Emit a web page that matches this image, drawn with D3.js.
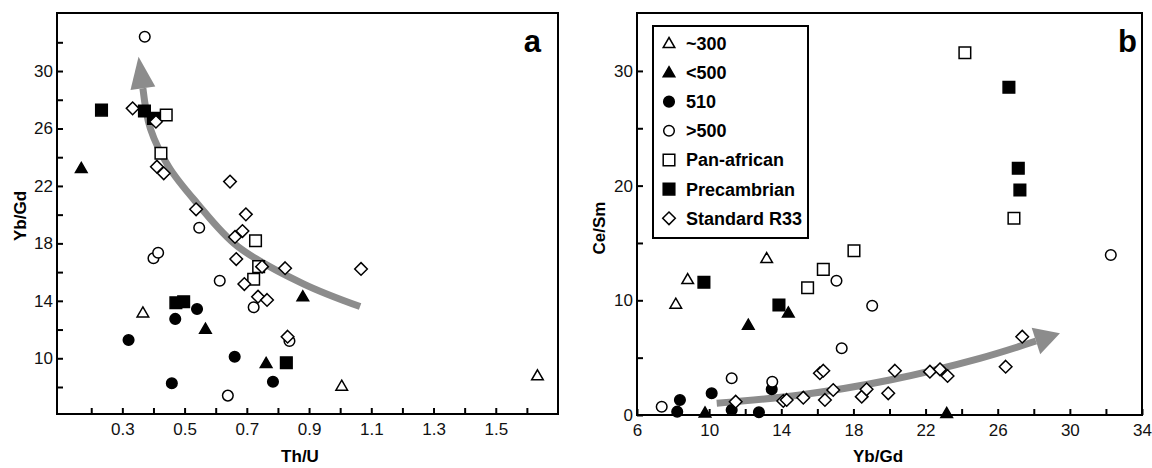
<!DOCTYPE html>
<html><head><meta charset="utf-8">
<script src="https://cdn.jsdelivr.net/npm/d3@7"></script>
<style>body{margin:0;background:#fff}svg{display:block}text{font-family:"Liberation Sans",Arial,Helvetica,sans-serif}</style>
</head><body><svg id="c" width="1152" height="468"></svg>
<script>
// ---- categories / legend ----
const groups = ["~300", "<500", "510", ">500", "Pan-african", "Precambrian", "Standard R33"];
const shapes = ["triangle", "triangle", "circle", "circle", "square", "square", "diamond"];
const filled = [false, true, true, false, false, true, false];

// ---- panel a: [Th/U, Yb/Gd] ----
const a300   = [[0.366,13.17],[1.005,8.07],[1.634,8.79]];
const aLt500 = [[0.168,23.23],[0.567,12.04],[0.762,9.65],[0.88,14.29]];
const a510   = [[0.32,11.27],[0.47,12.74],[0.54,13.43],[0.459,8.26],[0.661,10.11],[0.784,8.37]];
const aGt500 = [[0.372,32.39],[0.40,16.96],[0.415,17.35],[0.547,19.09],[0.613,15.40],[0.722,13.55],[0.639,7.40],[0.837,11.20]];
const aPan   = [[0.441,26.94],[0.424,24.27],[0.728,18.18],[0.738,16.38],[0.722,15.50]];
const aPre   = [[0.233,27.28],[0.371,27.22],[0.40,26.7],[0.472,13.87],[0.497,13.94],[0.827,9.69]];
const aStd   = [[0.333,27.40],[0.408,26.47],[0.411,23.34],[0.433,22.88],[0.646,22.3],[0.537,20.37],[0.697,20.02],[0.686,18.86],[0.662,18.45],[0.666,16.91],[0.749,16.38],[0.823,16.27],[0.692,15.17],[0.736,14.29],[0.765,14.06],[0.831,11.50],[1.067,16.22]];
const aArrow = [[1.064,13.6],[0.88,15.2],[0.67,17.8],[0.54,20.8],[0.45,23.3],[0.39,26.0],[0.366,28.8]];
const aArrowTip = [0.352,31.0];

// ---- panel b: [Yb/Gd, Ce/Sm] ----
const b300   = [[8.15,9.68],[8.81,11.83],[13.19,13.66]];
const bLt500 = [[12.17,7.85],[14.39,8.92],[9.77,0.2],[23.17,0.15]];
const b510   = [[8.38,1.31],[8.23,0.29],[10.14,1.89],[11.25,0.44],[12.76,0.24],[13.47,2.24]];
const bGt500 = [[7.37,0.72],[11.25,3.20],[13.50,2.90],[17.06,11.71],[19.04,9.53],[17.35,5.82],[32.27,13.95]];
const bPan   = [[15.46,11.10],[16.33,12.70],[18.03,14.32],[24.18,31.59],[26.90,17.15]];
const bPre   = [[9.71,11.57],[13.87,9.59],[26.62,28.57],[27.14,21.51],[27.23,19.62]];
const bStd   = [[11.47,1.16],[14.11,1.22],[14.30,1.31],[15.22,1.51],[16.42,1.31],[16.14,3.64],[16.33,3.86],[16.88,2.18],[18.46,1.60],[18.73,2.24],[19.93,1.89],[20.30,3.86],[22.24,3.78],[22.80,3.98],[23.22,3.40],[26.44,4.21],[27.36,6.83]];
const bArrow = [[10.42,1.02],[15.04,1.74],[20.02,3.05],[25.01,4.94],[28.12,6.45]];
const bArrowTip = [29.45,7.12];

// ---- ticks ----
const aXTicks = [0.2,0.3,0.4,0.5,0.6,0.7,0.8,0.9,1.0,1.1,1.2,1.3,1.4,1.5,1.6];
const aXLabels = ["0.3","0.5","0.7","0.9","1.1","1.3","1.5"];
const aYTicks = [8,10,12,14,16,18,20,22,24,26,28,30,32];
const aYLabels = ["10","14","18","22","26","30"];
const bXTicks = [6,8,10,12,14,16,18,20,22,24,26,28,30,32,34];
const bXLabels = ["6","10","14","18","22","26","30","34"];
const bYTicks = [0,5,10,15,20,25,30];
const bYLabels = ["0","10","20","30"];

const svg = d3.select("#c");

function symPath(shape) {
  if (shape === "triangle") return "M0,-5.8L5.8,4.2L-5.8,4.2Z";
  if (shape === "circle") return d3.symbol(d3.symbolCircle, Math.PI * 5.3 * 5.3)();
  if (shape === "square") return "M-5.8,-5.8H5.8V5.8H-5.8Z";
  return "M0,-6.3L6.3,0L0,6.3L-6.3,0Z";
}

function panel(o) {
  const x = d3.scaleLinear().domain(o.xd).range([o.l, o.r]);
  const y = d3.scaleLinear().domain(o.yd).range([o.b, o.t]);
  const g = svg.append("g");

  // arrow
  const pts = o.arrow.map(d => [x(d[0]), y(d[1])]);
  g.append("path").attr("d", d3.line().curve(d3.curveCatmullRom)(pts))
    .attr("fill", "none").attr("stroke", "#8c8c8c").attr("stroke-width", 7);
  const base = pts[pts.length - 1], tip = [x(o.tip[0]), y(o.tip[1])];
  const dx = tip[0] - base[0], dy = tip[1] - base[1], len = Math.hypot(dx, dy);
  const px = -dy / len * o.hw, py = dx / len * o.hw;
  g.append("path").attr("d", `M${tip[0]},${tip[1]}L${base[0]+px},${base[1]+py}L${base[0]-px},${base[1]-py}Z`)
    .attr("fill", "#8c8c8c");

  // axes
  const fx = (labels, fmt) => d => { const s = fmt(d); return labels.includes(s) ? s : ""; };
  const ax = g.append("g").attr("transform", `translate(0,${o.b})`)
    .call(d3.axisBottom(x).tickValues(o.xt).tickSize(-6).tickPadding(9).tickFormat(fx(o.xl, o.xf)));
  const ay = g.append("g").attr("transform", `translate(${o.l},0)`)
    .call(d3.axisLeft(y).tickValues(o.yt).tickSize(-6).tickPadding(4).tickFormat(fx(o.yl, d3.format("d"))));
  [ax, ay].forEach(a => {
    a.select(".domain").remove();
    a.selectAll("line").attr("stroke", "#000").attr("stroke-width", 2);
    a.selectAll("text").attr("font-size", 17).attr("fill", "#111")
      .attr("font-family", '"Liberation Sans",Arial,sans-serif');
  });

  // frame
  g.append("rect").attr("x", o.l).attr("y", o.t).attr("width", o.r - o.l).attr("height", o.b - o.t)
    .attr("fill", "none").attr("stroke", "#000").attr("stroke-width", 2);

  // points
  o.series.forEach((s, i) => {
    g.append("g").selectAll("path").data(s).join("path")
      .attr("d", symPath(shapes[i]))
      .attr("transform", d => `translate(${x(d[0])},${y(d[1])})`)
      .attr("fill", filled[i] ? "#000" : "#fff")
      .attr("stroke", "#000").attr("stroke-width", 1.5);
  });

  // titles
  g.append("text").attr("x", o.xtx).attr("y", 462).attr("text-anchor", "middle")
    .attr("font-size", 17).attr("font-weight", "bold").text(o.xTitle);
  g.append("text").attr("transform", `translate(${o.ytx},${o.yty}) rotate(-90)`).attr("text-anchor", "middle")
    .attr("font-size", 17).attr("font-weight", "bold").text(o.yTitle);
  g.append("text").attr("x", o.tagX).attr("y", 52).attr("text-anchor", "end")
    .attr("font-size", 31).attr("font-weight", "bold").text(o.tag);
  return {x, y, g};
}

panel({l: 57, r: 558, t: 13, b: 414, xd: [0.09, 1.70], yd: [6.12, 34.04],
  xt: aXTicks, xl: aXLabels, xf: d3.format(".1f"), yt: aYTicks, yl: aYLabels,
  series: [a300, aLt500, a510, aGt500, aPan, aPre, aStd],
  arrow: aArrow, tip: aArrowTip, hw: 12.5,
  xTitle: "Th/U", xtx: 300, yTitle: "Yb/Gd", ytx: 26, yty: 216, tag: "a", tagX: 541});

panel({l: 637, r: 1142, t: 13, b: 415, xd: [6, 34], yd: [0, 35.05],
  xt: bXTicks, xl: bXLabels, xf: d3.format("d"), yt: bYTicks, yl: bYLabels,
  series: [b300, bLt500, b510, bGt500, bPan, bPre, bStd],
  arrow: bArrow, tip: bArrowTip, hw: 14,
  xTitle: "Yb/Gd", xtx: 878, yTitle: "Ce/Sm", ytx: 605, yty: 228, tag: "b", tagX: 1137});

// legend
const lg = svg.append("g");
lg.append("rect").attr("x", 653).attr("y", 26).attr("width", 155).attr("height", 212)
  .attr("fill", "#fff").attr("stroke", "#000").attr("stroke-width", 2);
const rowY = d3.scalePoint().domain(groups).range([43.3, 218.3]);
groups.forEach((gname, i) => {
  lg.append("path").attr("d", symPath(shapes[i]))
    .attr("transform", `translate(669,${rowY(gname)})`)
    .attr("fill", filled[i] ? "#000" : "#fff").attr("stroke", "#000").attr("stroke-width", 1.5);
  lg.append("text").attr("x", 686).attr("y", rowY(gname) + 6.5)
    .attr("font-size", 18).attr("font-weight", "bold").text(gname);
});
</script></body></html>
